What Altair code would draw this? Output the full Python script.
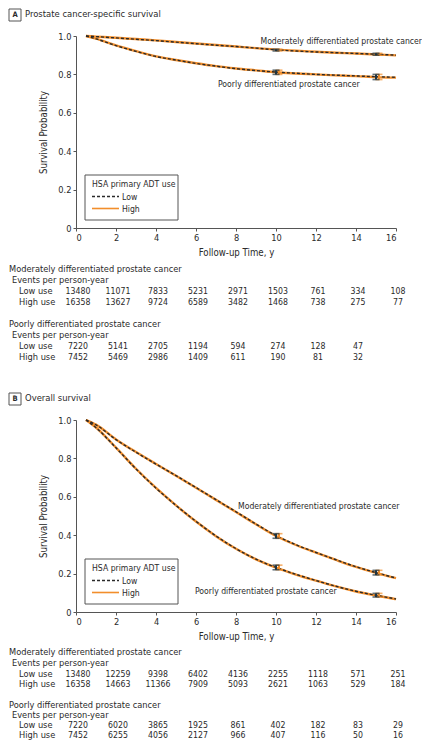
import altair as alt
import pandas as pd

FONT = "Liberation Sans Narrow, DejaVu Sans Condensed, Liberation Sans, Arial, sans-serif"
INK = "#2a2a2a"
ORANGE = "#f28e2b"
DARK = "#1f3440"
GRAY = "#555555"

# ---------------- data ----------------
t_grid = [0.5, 1, 2, 3, 4, 5, 6, 7, 8, 9, 10, 11, 12, 13, 14, 15, 16]

# Panel A: prostate cancer-specific survival
a_mod_low = [1.000, 0.997, 0.990, 0.983, 0.976, 0.968, 0.960, 0.952, 0.945, 0.937, 0.928, 0.922, 0.917, 0.913, 0.909, 0.905, 0.900]
a_mod_high = [1.000, 0.997, 0.991, 0.984, 0.977, 0.969, 0.961, 0.953, 0.945, 0.937, 0.929, 0.923, 0.918, 0.913, 0.909, 0.904, 0.899]
a_poor_low = [1.000, 0.985, 0.950, 0.920, 0.893, 0.875, 0.857, 0.843, 0.830, 0.820, 0.812, 0.806, 0.800, 0.796, 0.792, 0.788, 0.785]
a_poor_high = [1.000, 0.986, 0.951, 0.921, 0.894, 0.875, 0.858, 0.843, 0.831, 0.821, 0.811, 0.805, 0.800, 0.795, 0.791, 0.786, 0.783]

# Panel B: overall survival
b_mod_low = [1.000, 0.975, 0.898, 0.832, 0.770, 0.710, 0.648, 0.585, 0.522, 0.458, 0.398, 0.350, 0.310, 0.272, 0.236, 0.205, 0.177]
b_mod_high = [1.000, 0.976, 0.899, 0.833, 0.771, 0.710, 0.647, 0.584, 0.521, 0.457, 0.396, 0.349, 0.309, 0.271, 0.235, 0.204, 0.176]
b_poor_low = [1.000, 0.960, 0.855, 0.745, 0.645, 0.555, 0.472, 0.396, 0.330, 0.275, 0.232, 0.196, 0.164, 0.134, 0.108, 0.087, 0.068]
b_poor_high = [1.000, 0.961, 0.856, 0.746, 0.646, 0.555, 0.471, 0.395, 0.329, 0.274, 0.231, 0.195, 0.163, 0.133, 0.107, 0.086, 0.067]

# 95% CI bars at 10 and 15 years
err_t_low = [10, 15]
err_t_high = [10.15, 15.15]
a_mod_err_lo = [0.922, 0.900]
a_mod_err_hi = [0.931, 0.910]
a_poor_err_lo = [0.800, 0.773]
a_poor_err_hi = [0.822, 0.800]
b_mod_err_lo = [0.384, 0.193]
b_mod_err_hi = [0.408, 0.217]
b_poor_err_lo = [0.220, 0.078]
b_poor_err_hi = [0.244, 0.097]

# Number-at-risk tables
table_t = [0, 2, 4, 6, 8, 10, 12, 14, 16]
a_mod_low_n = [13480, 11071, 7833, 5231, 2971, 1503, 761, 334, 108]
a_mod_high_n = [16358, 13627, 9724, 6589, 3482, 1468, 738, 275, 77]
a_poor_low_n = [7220, 5141, 2705, 1194, 594, 274, 128, 47]
a_poor_high_n = [7452, 5469, 2986, 1409, 611, 190, 81, 32]
b_mod_low_n = [13480, 12259, 9398, 6402, 4136, 2255, 1118, 571, 251]
b_mod_high_n = [16358, 14663, 11366, 7909, 5093, 2621, 1063, 529, 184]
b_poor_low_n = [7220, 6020, 3865, 1925, 861, 402, 182, 83, 29]
b_poor_high_n = [7452, 6255, 4056, 2127, 966, 407, 116, 50, 16]

MOD = "Moderately differentiated prostate cancer"
POOR = "Poorly differentiated prostate cancer"

ONE = pd.DataFrame({"k": [0]})

x_scale = alt.Scale(domain=[0, 16], nice=False, zero=False)
y_scale = alt.Scale(domain=[0, 1], nice=False)
X_AXIS = alt.Axis(values=table_t, format="d", title="Follow-up Time, y", titlePadding=5)
Y_AXIS = alt.Axis(values=[0, 0.2, 0.4, 0.6, 0.8, 1.0],
                  labelExpr="datum.value == 0 ? '0' : format(datum.value, '.1f')",
                  title="Survival Probability", titlePadding=9)


def X(f):
    return alt.X(f, scale=x_scale, axis=X_AXIS)


def Y(f):
    return alt.Y(f, scale=y_scale, axis=Y_AXIS)


def ptext(s, x, y, size=9.2, align="left", color=INK, weight="normal"):
    return alt.Chart(ONE).mark_text(
        text=s, align=align, baseline="middle", fontSize=size, font=FONT,
        color=color, fontWeight=weight
    ).encode(x=alt.value(x), y=alt.value(y))


def make_panel(letter, title, mod_low, mod_high, poor_low, poor_high,
               errs, tables, mod_lab, poor_lab, y_rows):
    rows = []
    for curve, grp, vals in [("mod", "Low", mod_low), ("mod", "High", mod_high),
                             ("poor", "Low", poor_low), ("poor", "High", poor_high)]:
        for t, p in zip(t_grid, vals):
            rows.append({"t": t, "p": p, "curve": curve, "grp": grp})
    lines = pd.DataFrame(rows)

    high_line = alt.Chart(lines).transform_filter(alt.datum.grp == "High").mark_line(
        color=ORANGE, strokeWidth=2.4, interpolate="monotone").encode(
        x=X("t:Q"), y=Y("p:Q"), detail="curve:N")
    low_line = alt.Chart(lines).transform_filter(alt.datum.grp == "Low").mark_line(
        color=INK, strokeWidth=1.4, strokeDash=[3, 2], interpolate="monotone").encode(
        x=X("t:Q"), y=Y("p:Q"), detail="curve:N")

    erows = []
    for grp, ts in [("High", err_t_high), ("Low", err_t_low)]:
        for lo_list, hi_list in errs:
            for t, lo, hi in zip(ts, lo_list, hi_list):
                erows.append({"t": t, "lo": lo, "hi": hi, "grp": grp})
    edf = pd.DataFrame(erows)
    ecolor = alt.Color("grp:N", scale=alt.Scale(domain=["Low", "High"], range=[DARK, ORANGE]), legend=None)
    err_layers = []
    for grp in ["High", "Low"]:
        base = alt.Chart(edf).transform_filter(alt.datum.grp == grp)
        err_layers.append(base.mark_rule(strokeWidth=2).encode(
            x=X("t:Q"), y=Y("lo:Q"), y2="hi:Q", color=ecolor))
        for fld in ["lo", "hi"]:
            err_layers.append(base.mark_tick(orient="horizontal", size=7, thickness=1.6).encode(
                x=X("t:Q"), y=Y(f"{fld}:Q"), color=ecolor))

    labels = [
        ptext(MOD, mod_lab[0], mod_lab[1], size=8.6, align=mod_lab[2]),
        ptext(POOR, poor_lab[0], poor_lab[1], size=8.6, align=poor_lab[2]),
    ]

    legend = [
        alt.Chart(ONE).mark_rect(fillOpacity=0, stroke=GRAY, strokeWidth=1).encode(
            x=alt.value(9), x2=alt.value(102), y=alt.value(139), y2=alt.value(184)),
        ptext("HSA primary ADT use", 16, 148, size=8.6),
        alt.Chart(ONE).mark_rule(color=INK, strokeWidth=1.4, strokeDash=[3, 2]).encode(
            x=alt.value(16), x2=alt.value(43), y=alt.value(160.5)),
        ptext("Low", 46, 160.5, size=8.6),
        alt.Chart(ONE).mark_rule(color=ORANGE, strokeWidth=1.6).encode(
            x=alt.value(16), x2=alt.value(43), y=alt.value(172.5)),
        ptext("High", 46, 172.5, size=8.6),
    ]

    heading = [
        alt.Chart(ONE).mark_rect(fillOpacity=0, stroke=GRAY, strokeWidth=1).encode(
            x=alt.value(-67), x2=alt.value(-55), y=alt.value(-27), y2=alt.value(-15)),
        ptext(letter, -61, -21, size=7.5, align="center", weight="bold"),
        ptext(title, -51, -22, size=9.4),
    ]

    tab = []
    for (name, low_n, high_n), ys in zip(tables, y_rows):
        tab.append(ptext(name, -67, ys[0]))
        tab.append(ptext("Events per person-year", -64, ys[1]))
        tab.append(ptext("Low use", -57, ys[2]))
        tab.append(ptext("High use", -57, ys[3]))
        for vals, yy in [(low_n, ys[2]), (high_n, ys[3])]:
            ndf = pd.DataFrame({"t": table_t[:len(vals)], "n": vals})
            tab.append(alt.Chart(ndf).mark_text(
                align="center", baseline="middle", fontSize=8.7, font=FONT, color=INK, dx=2
            ).encode(x=X("t:Q"), y=alt.value(yy), text=alt.Text("n:Q", format="d")))

    return alt.layer(high_line, low_line, *err_layers, *labels, *legend, *heading, *tab).properties(
        width=320, height=192)


panel_a = make_panel(
    "A", "Prostate cancer-specific survival",
    a_mod_low, a_mod_high, a_poor_low, a_poor_high,
    [(a_mod_err_lo, a_mod_err_hi), (a_poor_err_lo, a_poor_err_hi)],
    [(MOD, a_mod_low_n, a_mod_high_n), (POOR, a_poor_low_n, a_poor_high_n)],
    (346, 5, "right"), (142, 48, "left"),
    [[233, 244, 255, 266], [288, 299, 310, 321]])

panel_b = make_panel(
    "B", "Overall survival",
    b_mod_low, b_mod_high, b_poor_low, b_poor_high,
    [(b_mod_err_lo, b_mod_err_hi), (b_poor_err_lo, b_poor_err_hi)],
    [(MOD, b_mod_low_n, b_mod_high_n), (POOR, b_poor_low_n, b_poor_high_n)],
    (162, 86, "left"), (119, 171, "left"),
    [[232, 243, 253.5, 264], [284.5, 295, 305, 315]])

chart = alt.vconcat(panel_a, panel_b, spacing=192, bounds="flush").properties(
    padding=0,
    autosize=alt.AutoSizeParams(type="pad", contains="content"),
).configure(padding=0).configure_view(stroke=None).configure_axis(
    domainColor=GRAY, tickColor=GRAY, labelColor=INK, titleColor=INK,
    labelFont=FONT, titleFont=FONT, labelFontSize=9.2, titleFontSize=9.6,
    titleFontWeight="normal", grid=False, tickSize=3, labelPadding=2
)

chart.save("out.html", embed_options={"renderer": "svg", "actions": False, "padding": 0})
